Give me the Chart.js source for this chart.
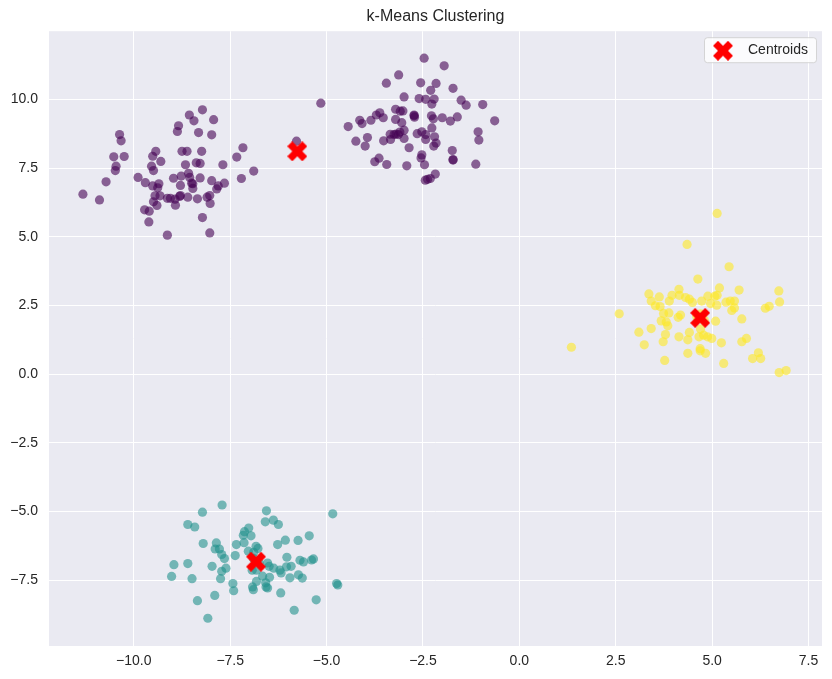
<!DOCTYPE html>
<html>
<head>
<meta charset="utf-8">
<title>k-Means Clustering</title>
<script src="https://cdn.jsdelivr.net/npm/chart.js@4/dist/chart.umd.min.js"></script>
<style>
  html, body { margin: 0; padding: 0; background: #ffffff; }
  #wrap { width: 832px; height: 679px; }
</style>
</head>
<body>
<div id="wrap"><canvas id="kmeansChart" width="832" height="679"></canvas></div>
<script>
// cluster 0 (purple) - it covers two blobs
const purpleLeft = [
  [-8.22,9.62],[-8.56,9.43],[-8.44,9.22],[-7.93,9.26],[-8.84,9.04],[-8.87,8.83],[-8.32,8.79],[-7.98,8.71],
  [-10.37,8.72],[-10.33,8.49],[-7.17,8.24],[-7.33,7.90],[-9.43,8.11],[-9.51,7.93],[-9.30,7.74],[-8.75,8.11],
  [-8.62,8.11],[-8.24,8.11],[-10.52,7.91],[-10.25,7.92],[-10.46,7.57],[-10.48,7.41],[-9.54,7.57],[-9.49,7.41],
  [-8.66,7.62],[-8.38,7.69],[-8.28,7.67],[-7.69,7.62],[-6.89,7.39],[-7.21,7.12],[-10.72,7.00],[-9.89,7.16],
  [-9.70,6.97],[-9.35,6.93],[-9.51,6.85],[-9.38,6.78],[-8.97,7.13],[-8.77,7.21],[-8.58,7.31],[-8.55,7.16],
  [-8.50,6.95],[-8.47,6.76],[-8.28,7.14],[-7.98,7.04],[-7.81,6.85],[-7.85,6.74],[-7.65,6.95],[-11.32,6.55],
  [-10.89,6.34],[-9.45,6.49],[-9.32,6.49],[-9.13,6.40],[-9.05,6.40],[-8.93,6.37],[-8.79,6.50],[-8.60,6.44],
  [-8.35,6.38],[-8.10,6.44],[-8.03,6.50],[-8.02,6.21],[-8.92,6.15],[-8.79,6.87],[-9.49,6.27],[-9.40,6.14],
  [-9.72,5.98],[-9.60,5.93],[-9.61,5.54],[-8.22,5.70],[-9.13,5.06],[-8.03,5.14],[-8.47,6.93],[-8.81,6.47]
];
const purpleRight = [
  [-2.47,11.50],[-1.95,11.22],[-3.13,10.89],[-3.45,10.59],[-2.56,10.60],[-2.16,10.58],[-2.30,10.33],[-1.72,10.40],
  [-2.99,10.09],[-2.60,10.03],[-2.43,10.00],[-2.21,10.01],[-2.27,9.83],[-1.51,9.97],[-1.38,9.79],[-0.95,9.81],
  [-5.15,9.86],[-3.21,9.64],[-3.02,9.58],[-3.09,9.57],[-2.73,9.43],[-2.72,9.35],[-3.62,9.51],[-3.71,9.43],
  [-3.53,9.33],[-2.28,9.40],[-2.23,9.29],[-2.00,9.33],[-1.79,9.21],[-1.61,9.36],[-0.64,9.22],[-4.14,9.24],
  [-4.08,9.12],[-3.85,9.24],[-4.44,9.01],[-3.21,9.27],[-3.05,9.15],[-2.99,8.88],[-3.35,8.73],[-3.25,8.72],
  [-3.14,8.72],[-3.10,8.81],[-2.65,8.75],[-2.53,8.82],[-2.43,8.72],[-2.27,8.96],[-2.20,8.64],[-2.43,8.54],
  [-2.22,8.30],[-2.16,8.41],[-4.24,8.48],[-3.94,8.61],[-4.00,8.30],[-3.52,8.49],[-3.34,8.54],[-2.99,8.58],
  [-2.86,8.24],[-2.53,7.98],[-2.55,7.87],[-2.46,7.62],[-1.07,8.82],[-1.05,8.52],[-1.74,8.14],[-1.72,7.81],
  [-1.13,7.64],[-3.64,7.86],[-3.75,7.73],[-3.44,7.63],[-2.92,7.58],[-2.44,7.06],[-2.31,7.12],[-2.18,7.28],
  [-5.78,8.48],[-2.73,9.40],[-1.72,7.79],[-3.20,8.74],[-2.38,7.09]
];
// cluster 1 (teal)
const tealPoints = [
  [-7.71,-4.76],[-8.22,-5.02],[-6.56,-4.97],[-4.84,-5.08],[-8.60,-5.47],[-8.42,-5.56],[-6.59,-5.37],[-6.38,-5.31],
  [-6.25,-5.47],[-7.02,-5.60],[-7.13,-5.73],[-7.16,-5.86],[-6.96,-5.88],[-7.14,-6.13],[-7.34,-6.20],[-8.20,-6.16],
  [-7.86,-6.14],[-7.89,-6.36],[-7.78,-6.36],[-7.72,-6.56],[-7.65,-6.71],[-7.37,-6.60],[-6.83,-6.26],[-6.78,-6.34],
  [-6.27,-6.20],[-6.07,-6.04],[-5.74,-6.05],[-5.45,-5.88],[-6.03,-6.66],[-5.69,-6.77],[-5.60,-6.83],[-5.39,-6.76],
  [-5.34,-6.72],[-5.92,-6.99],[-6.04,-7.01],[-6.21,-7.13],[-6.18,-7.23],[-6.37,-7.06],[-6.53,-6.87],[-6.49,-6.99],
  [-8.96,-6.93],[-8.60,-6.89],[-7.97,-6.99],[-7.61,-7.06],[-7.72,-7.17],[-7.75,-7.44],[-9.02,-7.36],[-8.49,-7.44],
  [-7.43,-7.62],[-7.41,-7.88],[-6.92,-7.74],[-6.90,-7.84],[-6.82,-7.54],[-6.66,-7.35],[-6.48,-7.39],[-6.58,-7.59],
  [-6.57,-7.74],[-6.53,-7.78],[-5.95,-7.41],[-5.73,-7.30],[-5.63,-7.42],[-6.19,-7.96],[-8.35,-8.24],[-7.90,-8.05],
  [-8.08,-8.88],[-5.84,-8.59],[-5.27,-8.21],[-4.74,-7.62],[-4.71,-7.67],[-7.03,-6.44],[-6.89,-6.48],[-6.82,-7.13],
  [-6.93,-7.13],[-6.75,-6.85],[-6.90,-6.70]
];
// cluster 2 (yellow)
const yellowPoints = [
  [5.13,5.85],[4.35,4.72],[5.44,3.91],[4.63,3.46],[5.19,3.14],[5.70,3.06],[6.73,3.03],[6.75,2.63],
  [3.36,2.92],[3.63,2.81],[3.96,2.87],[4.14,3.09],[4.15,2.87],[4.31,2.79],[4.41,2.73],[4.49,2.61],
  [4.73,2.66],[4.89,2.84],[5.07,2.84],[5.13,2.87],[4.96,2.57],[5.12,2.51],[5.36,2.62],[5.47,2.66],
  [5.58,2.66],[5.51,2.32],[5.58,2.41],[3.42,2.66],[3.53,2.49],[3.65,2.46],[3.89,2.66],[3.74,2.21],
  [3.88,2.23],[4.12,2.07],[4.18,2.15],[3.68,1.94],[3.81,1.90],[3.85,1.76],[2.59,2.20],[5.09,1.93],
  [5.77,2.01],[6.38,2.40],[6.48,2.47],[3.10,1.53],[3.42,1.66],[3.79,1.44],[3.73,1.18],[3.24,1.07],
  [4.14,1.36],[4.37,1.25],[4.41,1.52],[4.66,1.36],[4.78,1.42],[4.88,1.36],[4.99,1.30],[4.70,1.64],
  [5.24,1.14],[5.77,1.18],[5.89,1.30],[4.37,0.76],[4.69,0.93],[4.69,0.85],[4.83,0.76],[3.77,0.50],
  [5.30,0.39],[6.05,0.57],[6.20,0.78],[6.26,0.57],[6.74,0.06],[6.92,0.13],[4.60,2.10],[4.80,1.95],
  [4.70,2.20],[1.35,0.98]
];
const centroids = [[-5.76, 8.11], [4.69, 2.05], [-6.83, -6.82]];

const xTicks = [-10, -7.5, -5, -2.5, 0, 2.5, 5, 7.5];
const yTicks = [-7.5, -5, -2.5, 0, 2.5, 5, 7.5, 10];
const xRange = [-12.2, 7.85];
const yRange = [-9.89, 12.48];

const FONT = '"Liberation Sans", Arial, sans-serif';

function toPoints(arr) {
  return arr.map(p => ({ x: p[0], y: p[1] }));
}

// filled 'X' like matplotlib marker
function makeX(size, color) {
  const c = document.createElement('canvas');
  c.width = size;
  c.height = size;
  const g = c.getContext('2d');
  const pts = [[0.25,0],[0.5,0.25],[0.75,0],[1,0.25],[0.75,0.5],[1,0.75],
               [0.75,1],[0.5,0.75],[0.25,1],[0,0.75],[0.25,0.5],[0,0.25]];
  g.beginPath();
  pts.forEach((p, i) => {
    const px = p[0] * size, py = p[1] * size;
    if (i === 0) g.moveTo(px, py); else g.lineTo(px, py);
  });
  g.closePath();
  g.fillStyle = color;
  g.fill();
  return c;
}

const xMarker = makeX(20, '#ff0000');

function fmt(v) {
  return v.toFixed(1).replace('-', '\u2212');
}

// grey plot background
const bgPlugin = {
  id: 'plotBg',
  beforeDraw(chart) {
    const a = chart.chartArea;
    const g = chart.ctx;
    g.save();
    g.fillStyle = '#eaeaf2';
    g.fillRect(a.left, a.top, a.right - a.left, a.bottom - a.top);
    g.restore();
  }
};

// legend box in the top right corner
const legendPlugin = {
  id: 'boxLegend',
  afterDraw(chart) {
    const a = chart.chartArea;
    const g = chart.ctx;
    const w = 112, h = 25;
    const x0 = a.right - 6 - w, y0 = a.top + 6;
    g.save();
    g.beginPath();
    g.roundRect(x0 + 0.5, y0 + 0.5, w, h, 3);
    g.fillStyle = 'rgba(255,255,255,0.8)';
    g.fill();
    g.strokeStyle = 'rgba(204,204,204,0.8)';
    g.lineWidth = 1;
    g.stroke();
    g.drawImage(xMarker, x0 + 9, y0 + 3.5);
    g.font = '14px ' + FONT;
    g.fillStyle = '#262626';
    g.textBaseline = 'alphabetic';
    g.fillText('Centroids', x0 + 44, y0 + 16.5);
    g.restore();
  }
};

const ctx = document.getElementById('kmeansChart').getContext('2d');

const data = {
  datasets: [
    {
      label: 'cluster 0',
      data: toPoints(purpleLeft.concat(purpleRight)),
      backgroundColor: 'rgba(68,1,84,0.6)',
      borderWidth: 0,
      pointRadius: 4.6,
      order: 1
    },
    {
      label: 'cluster 1',
      data: toPoints(tealPoints),
      backgroundColor: 'rgba(33,145,140,0.6)',
      borderWidth: 0,
      pointRadius: 4.6,
      order: 1
    },
    {
      label: 'cluster 2',
      data: toPoints(yellowPoints),
      backgroundColor: 'rgba(253,231,37,0.6)',
      borderWidth: 0,
      pointRadius: 4.6,
      order: 1
    },
    {
      // drawn last so the markers sit on top
      label: 'Centroids',
      data: toPoints(centroids),
      pointStyle: xMarker,
      backgroundColor: '#ff0000',
      borderWidth: 0,
      pointRadius: 10,
      order: 0
    }
  ]
};

const config = {
  type: 'scatter',
  data: data,
  options: {
    responsive: false,
    animation: false,
    events: [],
    layout: { padding: { left: 0, right: 9, top: 0, bottom: 0 } },
    plugins: {
      legend: { display: false },
      tooltip: { enabled: false },
      title: {
        display: true,
        text: 'k-Means Clustering',
        fullSize: false,
        color: '#262626',
        font: { family: FONT, size: 16, weight: 'normal' },
        padding: { top: 7, bottom: 5 }
      }
    },
    scales: {
      x: {
        type: 'linear',
        min: xRange[0],
        max: xRange[1],
        afterBuildTicks: (scale) => { scale.ticks = xTicks.map(v => ({ value: v })); },
        afterFit: (scale) => { scale.height = 33; },
        grid: { color: '#ffffff', lineWidth: 1, drawTicks: false },
        border: { display: false },
        ticks: {
          autoSkip: false,
          maxRotation: 0,
          padding: 7,
          color: '#262626',
          font: { family: FONT, size: 14 },
          callback: (v) => fmt(v)
        }
      },
      y: {
        type: 'linear',
        min: yRange[0],
        max: yRange[1],
        afterBuildTicks: (scale) => { scale.ticks = yTicks.map(v => ({ value: v })); },
        afterFit: (scale) => { scale.width = 49; },
        grid: { color: '#ffffff', lineWidth: 1, drawTicks: false },
        border: { display: false },
        ticks: {
          autoSkip: false,
          padding: 11,
          color: '#262626',
          font: { family: FONT, size: 14 },
          callback: (v) => fmt(v)
        }
      }
    }
  },
  plugins: [bgPlugin, legendPlugin]
};

const kmeansChart = new Chart(ctx, config);
</script>
</body>
</html>
